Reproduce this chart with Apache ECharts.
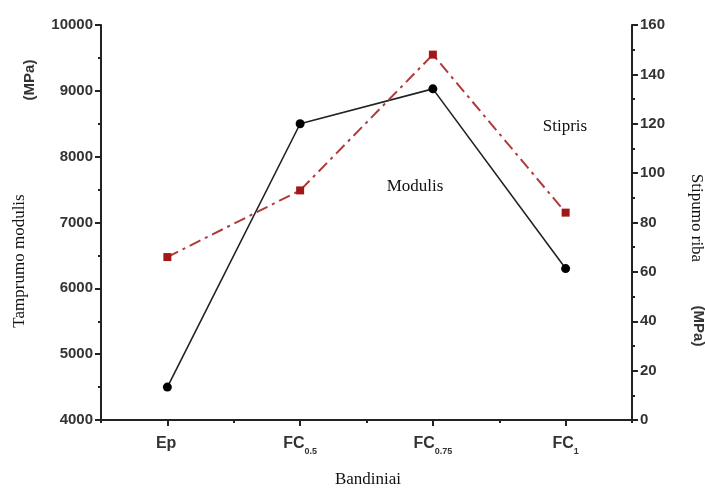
<!DOCTYPE html>
<html>
<head>
<meta charset="utf-8">
<script src="https://cdn.jsdelivr.net/npm/echarts@6/dist/echarts.min.js"></script>
<style>
  html, body { margin: 0; padding: 0; background: #fff; }
  #chart { width: 705px; height: 491px; }
</style>
</head>
<body>
<div id="chart"></div>
<script>
// samples on the x axis
var categories = ['Ep', 'FC0.5', 'FC0.75', 'FC1']
// tamprumo modulis, MPa (left axis)
var modulis = [4500, 8500, 9030, 6300]
// stiprumo riba, MPa (right axis)
var stipris = [66, 93, 148, 84]

var chart = echarts.init(document.getElementById('chart'))

var axisColor = '#222'
var labelStyle = {
  color: '#333',
  fontFamily: 'Liberation Sans, Arial',
  fontWeight: 'bold',
  fontSize: 15,
  formatter: function(v) {
    return String(v)
  }
}

var option = {
  animation: false,
  backgroundColor: '#fff',
  grid: { left: 101, right: 73, top: 25, bottom: 71 },
  xAxis: [{
    type: 'category',
    data: categories,
    boundaryGap: true,
    axisLine: { show: true, lineStyle: { color: axisColor, width: 2 } },
    axisTick: { show: true, alignWithLabel: true, length: 6, lineStyle: { color: axisColor, width: 2 } },
    axisLabel: Object.assign({}, labelStyle, {
      fontSize: 16,
      margin: 11,
      formatter: function(v) {
        // FC0.5 -> FC with subscript, Ep gets an empty one so the rows line up
        if (v.indexOf('FC') === 0) {
          return 'FC{sub|' + v.slice(2) + '}'
        }
        return v + '{sub|\u00a0}'
      },
      rich: {
        sub: { fontSize: 9, fontWeight: 'bold', color: '#333', fontFamily: 'Liberation Sans, Arial', padding: [16, 0, 0, 0] }
      }
    }),
    splitLine: { show: false }
  }, {
    // short ticks between the samples
    type: 'category',
    data: categories,
    position: 'bottom',
    boundaryGap: true,
    axisLine: { show: false },
    axisTick: { show: true, length: 3, lineStyle: { color: axisColor, width: 2 } },
    axisLabel: { show: false },
    splitLine: { show: false }
  }],
  yAxis: [{
    type: 'value',
    min: 4000,
    max: 10000,
    interval: 1000,
    position: 'left',
    axisLine: { show: true, lineStyle: { color: axisColor, width: 2 } },
    axisTick: { show: true, length: 6, lineStyle: { color: axisColor, width: 2 } },
    minorTick: { show: true, splitNumber: 2, length: 3, lineStyle: { color: axisColor, width: 2 } },
    axisLabel: Object.assign({}, labelStyle, { margin: 8 }),
    splitLine: { show: false }
  }, {
    type: 'value',
    min: 0,
    max: 160,
    interval: 20,
    position: 'right',
    axisLine: { show: true, lineStyle: { color: axisColor, width: 2 } },
    axisTick: { show: true, length: 6, lineStyle: { color: axisColor, width: 2 } },
    minorTick: { show: true, splitNumber: 2, length: 3, lineStyle: { color: axisColor, width: 2 } },
    axisLabel: Object.assign({}, labelStyle, { margin: 8 }),
    splitLine: { show: false }
  }],
  graphic: [{
    type: 'text',
    x: 20, y: 261, rotation: Math.PI / 2,
    style: { text: 'Tamprumo modulis', x: 0, y: 0, align: 'center', verticalAlign: 'middle', fontFamily: 'Liberation Serif', fontSize: 17, fill: '#111' }
  }, {
    type: 'text',
    x: 30, y: 80, rotation: Math.PI / 2,
    style: { text: '(MPa)', x: 0, y: 0, align: 'center', verticalAlign: 'middle', fontFamily: 'Liberation Sans', fontWeight: 'bold', fontSize: 15, fill: '#333' }
  }, {
    type: 'text',
    x: 696, y: 218, rotation: -Math.PI / 2,
    style: { text: 'Stipumo riba', x: 0, y: 0, align: 'center', verticalAlign: 'middle', fontFamily: 'Liberation Serif', fontSize: 17, fill: '#111' }
  }, {
    type: 'text',
    x: 698, y: 326, rotation: -Math.PI / 2,
    style: { text: '(MPa)', x: 0, y: 0, align: 'center', verticalAlign: 'middle', fontFamily: 'Liberation Sans', fontWeight: 'bold', fontSize: 15, fill: '#333' }
  }, {
    type: 'text',
    x: 368, y: 480,
    style: { text: 'Bandiniai', x: 0, y: 0, align: 'center', verticalAlign: 'middle', fontFamily: 'Liberation Serif', fontSize: 17, fill: '#111' }
  }, {
    type: 'text',
    x: 565, y: 127,
    style: { text: 'Stipris', x: 0, y: 0, align: 'center', verticalAlign: 'middle', fontFamily: 'Liberation Serif', fontSize: 17, fill: '#111' }
  }, {
    type: 'text',
    x: 415, y: 187,
    style: { text: 'Modulis', x: 0, y: 0, align: 'center', verticalAlign: 'middle', fontFamily: 'Liberation Serif', fontSize: 17, fill: '#111' }
  }],
  series: [{
    name: 'Modulis',
    type: 'line',
    xAxisIndex: 0,
    yAxisIndex: 0,
    data: modulis,
    symbol: 'circle',
    symbolSize: 9,
    itemStyle: { color: '#000' },
    lineStyle: { color: '#222', width: 1.6 }
  }, {
    name: 'Stipris',
    type: 'line',
    xAxisIndex: 0,
    yAxisIndex: 1,
    data: stipris,
    symbol: 'rect',
    symbolSize: 8,
    itemStyle: { color: '#a01818' },
    lineStyle: { color: '#b03a3a', width: 2, type: [12, 5, 3, 5] }
  }]
}

chart.setOption(option)
</script>
</body>
</html>
